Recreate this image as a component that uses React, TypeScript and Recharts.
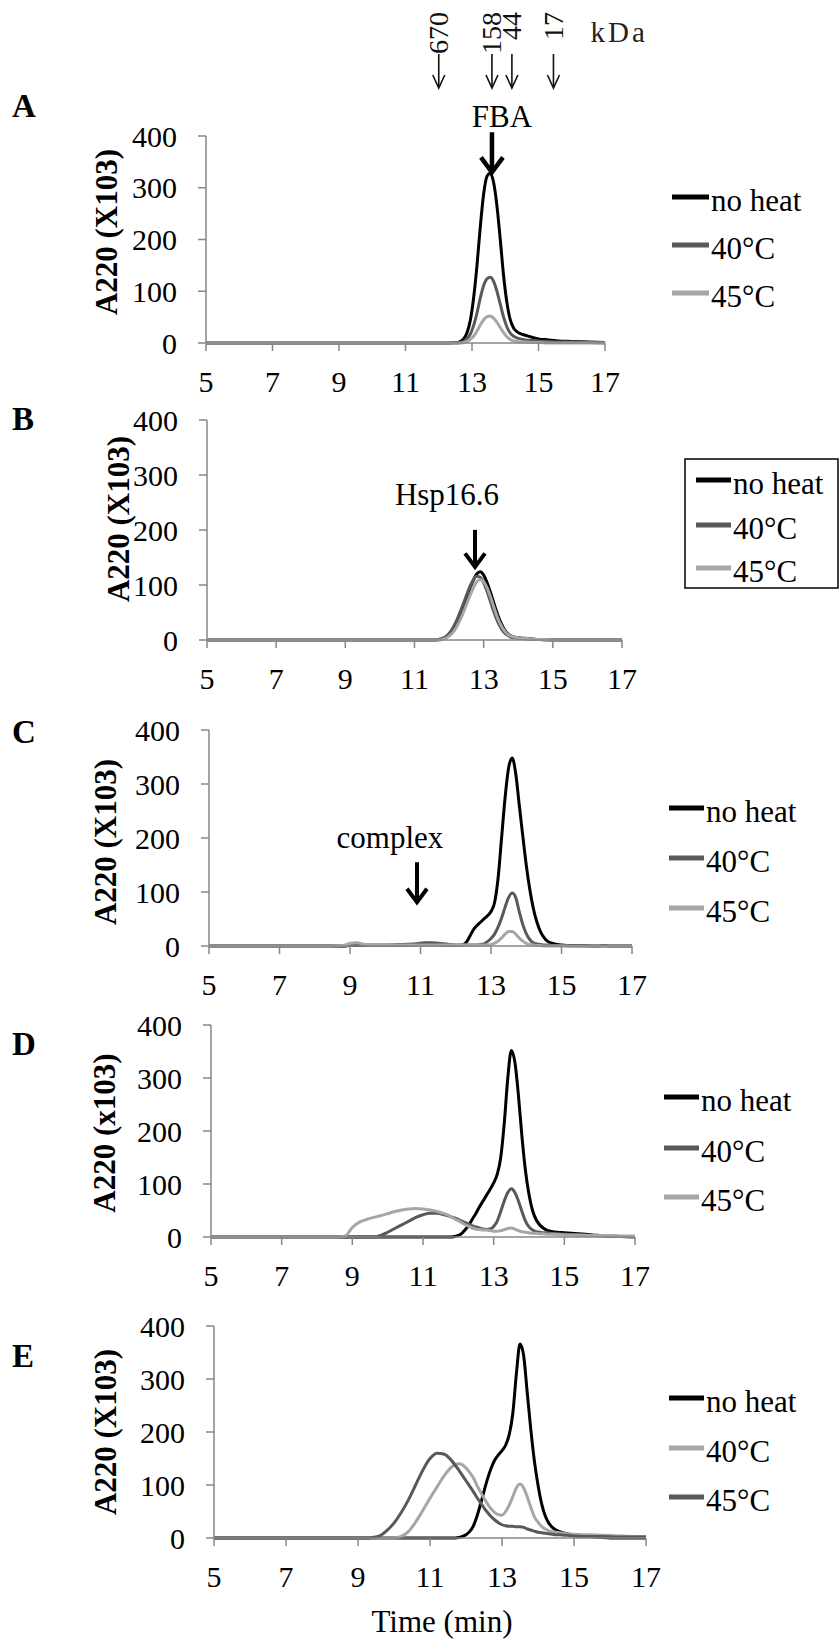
import React from 'react';
import { LineChart, Line, XAxis, YAxis, ReferenceDot, Legend } from 'recharts';

const FONT = '"Liberation Serif", "Times New Roman", Times, serif';
const INK = '#000000';
const DARK = '#595959';
const LIGHT = '#a6a6a6';
const AXIS = '#878787';

const xTicks = [5, 7, 9, 11, 13, 15, 17];
const yTicks = [0, 100, 200, 300, 400];

// ---- Panel A (FBA) ----
const timeA = [5, 6, 7, 8, 9, 10, 11, 12, 12.55, 12.65, 12.75, 12.85, 12.95, 13.05, 13.15, 13.25, 13.35, 13.45, 13.55, 13.65, 13.75, 13.85, 13.95, 14.05, 14.15, 14.25, 14.35, 14.45, 14.6, 14.8, 15.0, 15.3, 15.6, 16.0, 16.5, 17.0];
const noHeatA = [0, 0, 0, 0, 0, 0, 0, 0, 1, 3, 8, 20, 44, 88, 150, 225, 288, 322, 328, 310, 265, 200, 130, 78, 45, 29, 22, 18, 15, 11, 8, 6, 4, 3, 2, 1];
const c40A = [0, 0, 0, 0, 0, 0, 0, 0, 0, 1, 3, 8, 17, 34, 58, 87, 111, 124, 127, 119, 100, 75, 50, 31, 19, 13, 10, 8, 6, 5, 4, 3, 2, 2, 1, 0];
const c45A = [0, 0, 0, 0, 0, 0, 0, 0, 0, 0, 1, 3, 7, 13, 23, 35, 45, 51, 52, 48, 40, 30, 20, 12, 7, 4, 3, 2, 2, 1, 1, 0, 0, 0, 0, 0];

// ---- Panel B (Hsp16.6) ----
const timeB = [5, 6, 7, 8, 9, 10, 11, 11.6, 11.7, 11.8, 11.9, 12.0, 12.1, 12.2, 12.3, 12.4, 12.5, 12.6, 12.7, 12.8, 12.9, 13.0, 13.1, 13.2, 13.3, 13.4, 13.5, 13.6, 13.7, 13.8, 13.9, 14.0, 14.2, 14.4, 14.6, 14.8, 15.0, 16.0, 17.0];
const noHeatB = [0, 0, 0, 0, 0, 0, 0, 0, 1, 2, 5, 10, 18, 29, 43, 59, 77, 94, 109, 120, 124, 118, 104, 86, 66, 47, 31, 19, 11, 7, 5, 4, 3, 2, 1, 1, 0, 0, 0];
const c40B = [0, 0, 0, 0, 0, 0, 0, 0, 1, 3, 6, 12, 21, 33, 48, 64, 81, 97, 109, 116, 114, 104, 88, 69, 50, 34, 22, 13, 8, 5, 4, 3, 2, 1, 1, 0, 0, 0, 0];
const c45B = [0, 0, 0, 0, 0, 0, 0, 0, 0, 1, 3, 7, 13, 22, 34, 48, 64, 80, 95, 106, 110, 106, 95, 78, 59, 41, 27, 17, 10, 7, 5, 4, 3, 2, 1, 1, 0, 0, 0];

// ---- Panel C (FBA + Hsp16.6) ----
const timeC = [5, 6, 7, 8, 8.8, 9.0, 9.2, 9.4, 9.6, 10.0, 10.5, 10.9, 11.1, 11.3, 11.5, 11.8, 12.0, 12.2, 12.3, 12.4, 12.5, 12.6, 12.7, 12.8, 12.9, 13.0, 13.1, 13.2, 13.3, 13.4, 13.5, 13.6, 13.7, 13.8, 13.9, 14.0, 14.1, 14.2, 14.3, 14.4, 14.5, 14.6, 14.8, 15.0, 15.3, 15.6, 16.0, 16.2, 16.4, 17.0];
const noHeatC = [0, 0, 0, 0, 0, 1, 1, 1, 1, 1, 1, 2, 2, 2, 2, 1, 1, 2, 7, 18, 30, 38, 44, 50, 56, 64, 80, 125, 200, 275, 330, 348, 320, 262, 205, 150, 105, 70, 45, 27, 16, 9, 4, 2, 1, 1, 0, 1, 0, 0];
const c40C = [0, 0, 0, 0, 0, 2, 3, 2, 2, 2, 3, 4, 6, 6, 5, 3, 2, 2, 2, 2, 2, 2, 3, 4, 8, 14, 22, 35, 52, 72, 90, 98, 90, 64, 40, 23, 12, 6, 4, 3, 2, 2, 1, 1, 0, 0, 0, 0, 0, 0];
const c45C = [0, 0, 0, 0, 1, 5, 6, 3, 2, 2, 2, 2, 2, 2, 2, 2, 2, 2, 2, 2, 2, 2, 2, 2, 2, 3, 5, 9, 15, 22, 27, 27, 22, 15, 9, 5, 3, 2, 1, 1, 0, 0, 0, 0, 0, 0, 0, 0, 0, 0];

// ---- Panel D ----
const timeD = [5, 6, 7, 8, 8.6, 8.8, 9.0, 9.2, 9.4, 9.6, 9.8, 10.0, 10.2, 10.4, 10.6, 10.8, 11.0, 11.2, 11.4, 11.6, 11.8, 11.9, 12.0, 12.1, 12.2, 12.3, 12.4, 12.5, 12.6, 12.7, 12.8, 12.9, 13.0, 13.1, 13.2, 13.3, 13.4, 13.5, 13.6, 13.7, 13.8, 13.9, 14.0, 14.1, 14.2, 14.3, 14.4, 14.5, 14.6, 14.8, 15.0, 15.4, 15.8, 16.2, 16.6, 17.0];
const noHeatD = [0, 0, 0, 0, 0, 0, 0, 0, 0, 0, 0, 0, 0, 0, 0, 0, 0, 0, 0, 0, 0, 1, 3, 7, 14, 23, 34, 45, 57, 68, 79, 90, 102, 118, 150, 215, 300, 352, 330, 268, 190, 125, 80, 50, 33, 23, 17, 13, 11, 9, 8, 6, 4, 2, 1, 0];
const c40D = [0, 0, 0, 0, 0, 0, 0, 0, 0, 0, 3, 9, 16, 23, 30, 37, 42, 45, 45, 42, 38, 36, 33, 30, 27, 24, 21, 19, 17, 15, 14, 15, 20, 30, 48, 68, 84, 91, 84, 68, 48, 30, 19, 13, 10, 9, 8, 8, 7, 6, 5, 4, 3, 2, 1, 1];
const c45D = [0, 0, 0, 0, 0, 2, 18, 28, 33, 37, 40, 44, 48, 51, 53, 54, 53, 51, 48, 44, 38, 34, 31, 27, 23, 20, 17, 15, 14, 13, 13, 12, 11, 11, 12, 14, 16, 17, 15, 12, 10, 9, 8, 7, 7, 6, 6, 5, 5, 5, 4, 4, 3, 3, 2, 2];

// ---- Panel E ----
const timeE = [5, 6, 7, 8, 9.0, 9.2, 9.4, 9.6, 9.8, 10.0, 10.2, 10.4, 10.6, 10.8, 11.0, 11.2, 11.4, 11.6, 11.8, 11.9, 12.0, 12.1, 12.2, 12.3, 12.4, 12.5, 12.6, 12.7, 12.8, 12.9, 13.0, 13.1, 13.2, 13.3, 13.4, 13.5, 13.6, 13.7, 13.8, 13.9, 14.0, 14.1, 14.2, 14.3, 14.4, 14.5, 14.6, 14.8, 15.0, 15.4, 15.8, 16.2, 16.6, 17.0];
const noHeatE = [0, 0, 0, 0, 0, 0, 0, 0, 0, 0, 0, 0, 0, 0, 0, 0, 0, 0, 1, 3, 6, 12, 22, 40, 63, 88, 112, 132, 147, 157, 165, 175, 195, 235, 310, 366, 345, 275, 205, 145, 100, 65, 42, 28, 20, 15, 12, 8, 6, 3, 1, 0, 0, 0];
const c40E = [0, 0, 0, 0, 0, 0, 0, 0, 0, 0, 3, 12, 30, 52, 75, 97, 118, 134, 140, 138, 132, 124, 114, 100, 87, 75, 64, 55, 48, 44, 43, 50, 62, 78, 95, 102, 95, 78, 58, 40, 30, 22, 17, 14, 12, 11, 10, 8, 7, 6, 5, 4, 3, 3];
const c45E = [0, 0, 0, 0, 0, 0, 1, 4, 14, 28, 48, 72, 100, 128, 150, 160, 158, 146, 128, 118, 108, 98, 88, 77, 67, 57, 48, 40, 34, 29, 25, 23, 22, 22, 21, 21, 20, 17, 15, 13, 11, 10, 9, 8, 7, 6, 6, 5, 4, 3, 3, 2, 2, 2];

// size-exclusion standards (kDa) marked above panel A
const kdaTimes = [12.0, 13.6, 14.2, 15.45];
const kdaLabels = ['670', '158', '44', '17'];

const seriesKeys = ['a', 'b', 'c'];
const names = ['no heat', '40°C', '45°C'];

const rowsOf = (t: number[], a: number[], b: number[], c: number[]) =>
  t.map((x, i) => ({ t: x, a: a[i], b: b[i], c: c[i] }));

type Ann = { x: number; y: number; text: string; dx: number; textUp: number; len: number; head: number; w: number };

type Panel = {
  id: string;
  svgTop: number;
  height: number;
  left: number;
  right: number;
  top: number;
  bottom: number;
  xAxisH: number;
  rows: any[];
  colors: string[];
  legendX1: number;
  legendX2: number;
  legendYs: number[];
  legendBox?: { x: number; y: number; w: number; h: number };
  ann?: Ann;
  markers?: boolean;
};

const panels: Panel[] = [
  {
    id: 'A', svgTop: 0, height: 400, left: 206, right: 605, top: 136, bottom: 343, xAxisH: 50,
    rows: rowsOf(timeA, noHeatA, c40A, c45A), colors: [INK, DARK, LIGHT],
    legendX1: 672, legendX2: 709, legendYs: [197, 245, 293],
    ann: { x: 13.6, y: 330, text: 'FBA', dx: 10, textUp: 45, len: 40, head: 11, w: 4.5 },
    markers: true,
  },
  {
    id: 'B', svgTop: 400, height: 310, left: 207, right: 622, top: 420, bottom: 640, xAxisH: 70,
    rows: rowsOf(timeB, noHeatB, c40B, c45B), colors: [INK, DARK, LIGHT],
    legendX1: 696, legendX2: 731, legendYs: [480, 525, 568],
    legendBox: { x: 685, y: 459, w: 153, h: 129 },
    ann: { x: 12.75, y: 133, text: 'Hsp16.6', dx: -28, textUp: 62, len: 37, head: 10, w: 4 },
  },
  {
    id: 'C', svgTop: 690, height: 320, left: 209, right: 632, top: 730, bottom: 946, xAxisH: 64,
    rows: rowsOf(timeC, noHeatC, c40C, c45C), colors: [INK, DARK, LIGHT],
    legendX1: 669, legendX2: 704, legendYs: [808, 858, 908],
    ann: { x: 10.9, y: 81, text: 'complex', dx: -27, textUp: 54, len: 40, head: 10, w: 4 },
  },
  {
    id: 'D', svgTop: 990, height: 312, left: 211, right: 635, top: 1025, bottom: 1237, xAxisH: 65,
    rows: rowsOf(timeD, noHeatD, c40D, c45D), colors: [INK, DARK, LIGHT],
    legendX1: 664, legendX2: 699, legendYs: [1097, 1148, 1197],
  },
  {
    id: 'E', svgTop: 1290, height: 356, left: 214, right: 646, top: 1326, bottom: 1538, xAxisH: 60,
    rows: rowsOf(timeE, noHeatE, c40E, c45E), colors: [INK, LIGHT, DARK],
    legendX1: 669, legendX2: 704, legendYs: [1398, 1448, 1497],
  },
];

const letters = [
  { t: 'A', x: 12, y: 117 },
  { t: 'B', x: 12, y: 430 },
  { t: 'C', x: 12, y: 743 },
  { t: 'D', x: 12, y: 1055 },
  { t: 'E', x: 12, y: 1367 },
];
const yLabels = [
  { t: 'A220 (X103)', x: 106, y: 232 },
  { t: 'A220 (X103)', x: 118, y: 519 },
  { t: 'A220 (X103)', x: 105, y: 842 },
  { t: 'A220 (x103)', x: 104, y: 1133 },
  { t: 'A220 (X103)', x: 105, y: 1432 },
];

const BigArrow = (props: any) => {
  const { cx, cy, a } = props;
  if (cx == null || cy == null) return null;
  const ann: Ann = a;
  return (
    <g>
      <text x={cx + ann.dx} y={cy - ann.textUp} textAnchor="middle" fontSize={31} style={{ fontFamily: FONT }} fill={INK}>
        {ann.text}
      </text>
      <line x1={cx} y1={cy - ann.len} x2={cx} y2={cy - 3} stroke={INK} strokeWidth={ann.w} />
      <polyline
        points={`${cx - ann.head},${cy - ann.head * 1.35} ${cx},${cy} ${cx + ann.head},${cy - ann.head * 1.35}`}
        fill="none"
        stroke={INK}
        strokeWidth={ann.w}
        strokeLinejoin="miter"
      />
    </g>
  );
};

const MarkerArrow = (props: any) => {
  const { cx, cy, label, last } = props;
  if (cx == null || cy == null) return null;
  const ty = cy - 124;
  return (
    <g>
      <text
        x={cx}
        y={ty}
        transform={`rotate(-90 ${cx} ${ty})`}
        textAnchor="end"
        dominantBaseline="central"
        fontSize={28}
        style={{ fontFamily: FONT }}
        fill="#111"
      >
        {label}
      </text>
      <line x1={cx} y1={cy - 82} x2={cx} y2={cy - 49} stroke="#111" strokeWidth={1.6} />
      <polyline
        points={`${cx - 6},${cy - 61} ${cx},${cy - 48} ${cx + 6},${cy - 61}`}
        fill="none"
        stroke="#111"
        strokeWidth={1.6}
      />
      {last ? (
        <text x={cx + 37} y={cy - 94} fontSize={29} letterSpacing={3} style={{ fontFamily: FONT }} fill="#222">
          kDa
        </text>
      ) : null}
    </g>
  );
};

const makeLegend = (p: Panel) => (props: any) => {
  const payload = (props.payload || []) as any[];
  const off = p.svgTop;
  return (
    <svg width={839} height={p.height} style={{ position: 'absolute', left: 0, top: 0, overflow: 'visible' }}>
      {p.legendBox ? (
        <rect
          x={p.legendBox.x}
          y={p.legendBox.y - off}
          width={p.legendBox.w}
          height={p.legendBox.h}
          fill="#fff"
          stroke="#000"
          strokeWidth={1.5}
        />
      ) : null}
      {payload.map((e: any, j: number) => {
        const idx = seriesKeys.indexOf(e.dataKey);
        const i = idx >= 0 ? idx : j;
        return (
          <g key={i}>
            <line
              x1={p.legendX1}
              x2={p.legendX2}
              y1={p.legendYs[i] - off}
              y2={p.legendYs[i] - off}
              stroke={e.color}
              strokeWidth={5}
            />
            <text x={p.legendX2 + 2} y={p.legendYs[i] - off + 14} fontSize={31} style={{ fontFamily: FONT }} fill="#000">
              {e.value}
            </text>
          </g>
        );
      })}
    </svg>
  );
};

const tickStyle = { fontSize: 30, fill: '#000', fontFamily: FONT };

const PanelChart = ({ p }: { p: Panel }) => {
  const mTop = p.top - p.svgTop;
  const plotBottom = p.bottom - p.svgTop;
  const mBottom = p.height - plotBottom - p.xAxisH;
  return (
    <div style={{ position: 'absolute', left: 0, top: p.svgTop, width: 839, height: p.height }}>
      <LineChart
        width={839}
        height={p.height}
        data={p.rows}
        margin={{ top: mTop, right: 839 - p.right, bottom: mBottom, left: 0 }}
        style={{ fontFamily: FONT }}
      >
        <XAxis
          dataKey="t"
          type="number"
          domain={[5, 17]}
          ticks={xTicks}
          interval={0}
          height={p.xAxisH}
          tickSize={8}
          tickMargin={20}
          tick={tickStyle}
          axisLine={{ stroke: AXIS, strokeWidth: 1.5 }}
          tickLine={{ stroke: AXIS, strokeWidth: 1.5 }}
        />
        <YAxis
          type="number"
          domain={[0, 400]}
          ticks={yTicks}
          interval={0}
          width={p.left}
          tickSize={8}
          tickMargin={21}
          tick={tickStyle}
          axisLine={{ stroke: AXIS, strokeWidth: 1.5 }}
          tickLine={{ stroke: AXIS, strokeWidth: 1.5 }}
        />
        {seriesKeys.map((k, i) => (
          <Line
            key={k}
            type="monotone"
            dataKey={k}
            name={names[i]}
            stroke={p.colors[i]}
            strokeWidth={3}
            dot={false}
            activeDot={false}
            isAnimationActive={false}
          />
        ))}
        <Legend
          layout="horizontal"
          align="center"
          verticalAlign="middle"
          content={makeLegend(p)}
          wrapperStyle={{ left: 0, top: 0, width: 839, height: p.height, margin: 0, padding: 0 }}
        />
        {p.ann ? (
          <ReferenceDot
            x={p.ann.x}
            y={p.ann.y}
            r={0}
            ifOverflow="visible"
            shape={(sp: any) => <BigArrow cx={sp.cx} cy={sp.cy} a={p.ann} />}
          />
        ) : null}
        {p.markers
          ? kdaTimes.map((t, i) => (
              <ReferenceDot
                key={'m' + i}
                x={t}
                y={400}
                r={0}
                ifOverflow="visible"
                shape={(sp: any) => (
                  <MarkerArrow cx={sp.cx} cy={sp.cy} label={kdaLabels[i]} last={i === kdaTimes.length - 1} />
                )}
              />
            ))
          : null}
      </LineChart>
    </div>
  );
};

export default function App() {
  return (
    <div
      style={{
        position: 'absolute',
        left: 0,
        top: 0,
        width: 839,
        height: 1646,
        background: '#fff',
        fontFamily: FONT,
        overflow: 'hidden',
      }}
    >
      {panels.map((p) => (
        <PanelChart key={p.id} p={p} />
      ))}
      <svg
        width={839}
        height={1646}
        style={{ position: 'absolute', left: 0, top: 0, pointerEvents: 'none' }}
      >
        {letters.map((l) => (
          <text key={l.t} x={l.x} y={l.y} fontSize={33} fontWeight="bold" style={{ fontFamily: FONT }} fill="#000">
            {l.t}
          </text>
        ))}
        {yLabels.map((l, i) => (
          <text
            key={i}
            x={l.x}
            y={l.y}
            transform={`rotate(-90 ${l.x} ${l.y})`}
            textAnchor="middle"
            dominantBaseline="central"
            fontSize={31}
            fontWeight="bold"
            style={{ fontFamily: FONT }}
            fill="#000"
          >
            {l.t}
          </text>
        ))}
        <text x={442} y={1632} textAnchor="middle" fontSize={31} style={{ fontFamily: FONT }} fill="#000">
          Time (min)
        </text>
      </svg>
    </div>
  );
}
